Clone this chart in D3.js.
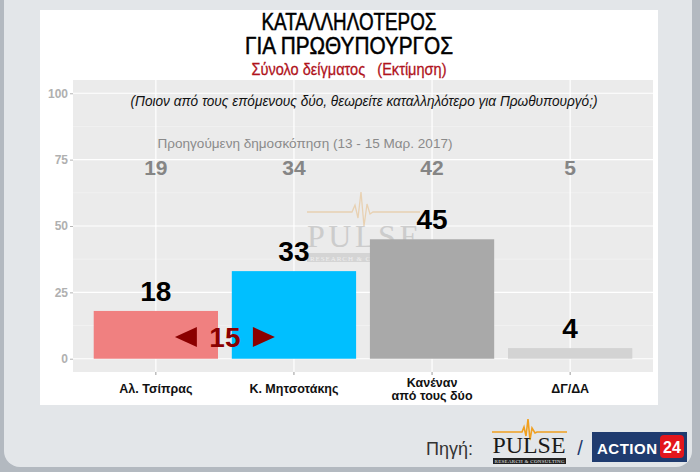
<!DOCTYPE html>
<html>
<head>
<meta charset="utf-8">
<script src="https://cdn.jsdelivr.net/npm/d3@7"></script>
<style>
  html, body { margin: 0; padding: 0; background: #aeb5bd; }
  svg { display: block; }
</style>
</head>
<body>
<svg id="chart" width="700" height="472"></svg>
<script>
// Poll data: most suitable prime minister
const categories = ["Αλ. Τσίπρας", "Κ. Μητσοτάκης", "Κανέναν\nαπό τους δύο", "ΔΓ/ΔΑ"];
const currentValues = [18, 33, 45, 4];
const previousValues = [19, 34, 42, 5];
const yTicks = [0, 25, 50, 75, 100];
const yMinorTicks = [12.5, 37.5, 62.5, 87.5];
const barColors = ["#f08080", "#00bfff", "#a9a9a9", "#d3d3d3"];

const titleLines = ["ΚΑΤΑΛΛΗΛΟΤΕΡΟΣ", "ΓΙΑ ΠΡΩΘΥΠΟΥΡΓΟΣ"];
const subtitle = "Σύνολο δείγματος   (Εκτίμηση)";
const question = "(Ποιον από τους επόμενους δύο, θεωρείτε καταλληλότερο για Πρωθυπουργό;)";
const previousLabel = "Προηγούμενη δημοσκόπηση (13 - 15 Μαρ. 2017)";

const svg = d3.select("#chart");
const SANS = "'Liberation Sans', Arial, sans-serif";
const SERIF = "'Liberation Serif', 'DejaVu Serif', serif";

// Outer frame
svg.append("rect").attr("x", 0).attr("y", 0).attr("width", 700).attr("height", 472).attr("fill", "#b3b9c0");
svg.append("rect").attr("x", 4).attr("y", -20).attr("width", 688).attr("height", 487)
  .attr("rx", 16).attr("fill", "#e3e6e9");

// White chart card
svg.append("rect").attr("x", 40).attr("y", 10).attr("width", 618).attr("height", 395).attr("fill", "#ffffff");

// Titles (condensed sans)
const titleWidths = [175, 208];
titleLines.forEach((t, i) => {
  svg.append("text").attr("x", 349).attr("y", 30 + i * 24).attr("text-anchor", "middle")
    .attr("font-family", SANS).attr("font-size", 23).attr("fill", "#000")
    .attr("stroke", "#000").attr("stroke-width", 0.5)
    .attr("textLength", titleWidths[i]).attr("lengthAdjust", "spacingAndGlyphs")
    .text(t);
});
svg.append("text").attr("x", 349).attr("y", 75).attr("text-anchor", "middle")
  .attr("font-family", SANS).attr("font-size", 17).attr("fill", "#b0121b")
  .attr("stroke", "#b0121b").attr("stroke-width", 0.3)
  .attr("textLength", 195).attr("lengthAdjust", "spacingAndGlyphs")
  .style("white-space", "pre").text(subtitle);

// Plot panel
const panel = { left: 73, right: 653, top: 80, bottom: 372 };
const y = d3.scaleLinear().domain([-5, 105]).range([panel.bottom, panel.top]);
const x = d3.scaleBand().domain(categories).range([panel.left, panel.right])
  .paddingInner(0.1).paddingOuter(0.15);
const cx = c => x(c) + x.bandwidth() / 2;

svg.append("rect").attr("x", panel.left).attr("y", panel.top)
  .attr("width", panel.right - panel.left).attr("height", panel.bottom - panel.top)
  .attr("fill", "#ebebeb");

const grid = svg.append("g");
grid.selectAll("line.minor").data(yMinorTicks).join("line")
  .attr("x1", panel.left).attr("x2", panel.right)
  .attr("y1", d => y(d)).attr("y2", d => y(d))
  .attr("stroke", "#f5f5f5").attr("stroke-width", 0.6);
grid.selectAll("line.major").data(yTicks).join("line")
  .attr("x1", panel.left).attr("x2", panel.right)
  .attr("y1", d => y(d)).attr("y2", d => y(d))
  .attr("stroke", "#ffffff").attr("stroke-width", 1.2);
grid.selectAll("line.vert").data(categories).join("line")
  .attr("x1", d => cx(d)).attr("x2", d => cx(d))
  .attr("y1", panel.top).attr("y2", panel.bottom)
  .attr("stroke", "#ffffff").attr("stroke-width", 1.2);

// Faint company watermark behind the bars
const wm = svg.append("g").attr("opacity", 0.75);
const wmPulse = [[307, 212], [352, 212], [355, 205], [358, 218], [361, 192], [364, 226], [367, 204], [370, 214], [373, 212], [420, 212]];
wm.append("path").attr("d", d3.line()(wmPulse)).attr("fill", "none")
  .attr("stroke", "#e8c9a0").attr("stroke-width", 1.3);
wm.append("text").attr("x", 363).attr("y", 247).attr("text-anchor", "middle")
  .attr("font-family", SERIF).attr("font-size", 32)
  .attr("textLength", 112).attr("fill", "#c2c2c2").text("PULSE");
wm.append("rect").attr("x", 307).attr("y", 253).attr("width", 114).attr("height", 9).attr("fill", "#cdcdcd");
wm.append("text").attr("x", 364).attr("y", 260.5).attr("text-anchor", "middle")
  .attr("font-family", SERIF).attr("font-size", 7)
  .attr("textLength", 108).attr("fill", "#efefef").text("RESEARCH & CONSULTING");

// Bars
svg.append("g").selectAll("rect").data(categories).join("rect")
  .attr("x", d => x(d)).attr("width", x.bandwidth())
  .attr("y", (d, i) => y(currentValues[i]))
  .attr("height", (d, i) => y(0) - y(currentValues[i]))
  .attr("fill", (d, i) => barColors[i]);

// Value labels
svg.append("g").selectAll("text").data(categories).join("text")
  .attr("x", d => cx(d)).attr("y", (d, i) => y(currentValues[i]) - 10)
  .attr("text-anchor", "middle").attr("font-family", SANS).attr("font-weight", "bold")
  .attr("font-size", 28).attr("fill", "#000")
  .text((d, i) => currentValues[i]);

// Previous poll values
svg.append("g").selectAll("text").data(categories).join("text")
  .attr("x", d => cx(d)).attr("y", y(69.2))
  .attr("text-anchor", "middle").attr("font-family", SANS).attr("font-weight", "bold")
  .attr("font-size", 21).attr("fill", "#858585")
  .text((d, i) => previousValues[i]);
svg.append("text").attr("x", 305).attr("y", y(79.5))
  .attr("text-anchor", "middle").attr("font-family", SANS).attr("font-size", 13.5)
  .attr("textLength", 295).attr("lengthAdjust", "spacingAndGlyphs")
  .attr("fill", "#8a8a8a").text(previousLabel);

// Question
svg.append("text").attr("x", 364).attr("y", y(95.3))
  .attr("text-anchor", "middle").attr("font-family", SANS).attr("font-style", "italic")
  .attr("font-size", 14).attr("fill", "#111")
  .attr("textLength", 467).attr("lengthAdjust", "spacingAndGlyphs").text(question);

// Lead between the two leaders
const lead = currentValues[1] - currentValues[0];
const leadX = (cx(categories[0]) + cx(categories[1])) / 2;
const leadY = y(8.2);
const leadG = svg.append("g").attr("fill", "#8b0000");
leadG.append("text").attr("x", leadX).attr("y", leadY + 10)
  .attr("text-anchor", "middle").attr("font-family", SANS).attr("font-weight", "bold")
  .attr("font-size", 28).text(lead);
leadG.append("path").attr("d", `M${leadX - 50},${leadY} L${leadX - 28},${leadY - 10} L${leadX - 28},${leadY + 10} Z`);
leadG.append("path").attr("d", `M${leadX + 50},${leadY} L${leadX + 28},${leadY - 10} L${leadX + 28},${leadY + 10} Z`);

// Y axis
const yAxis = d3.axisLeft(y).tickValues(yTicks).tickSize(3).tickPadding(2);
const yg = svg.append("g").attr("transform", `translate(${panel.left},0)`).call(yAxis);
yg.select(".domain").remove();
yg.selectAll(".tick line").attr("stroke", "#b5b5b5");
yg.selectAll(".tick text").attr("fill", "#b0b0b0").attr("font-family", SANS)
  .attr("font-weight", "bold").attr("font-size", 12);

// X axis
const xAxis = d3.axisBottom(x).tickSize(3).tickPadding(4).tickFormat("");
const xg = svg.append("g").attr("transform", `translate(0,${panel.bottom})`).call(xAxis);
xg.select(".domain").remove();
xg.selectAll(".tick line").attr("stroke", "#9a9a9a");
xg.selectAll(".tick").each(function (d) {
  const lines = d.split("\n");
  const t = d3.select(this).append("text").attr("text-anchor", "middle")
    .attr("font-family", SANS).attr("font-weight", "bold").attr("font-size", 12.5)
    .attr("fill", "#111");
  const startY = 21 - (lines.length - 1) * 6.5;
  lines.forEach((ln, i) => t.append("tspan").attr("x", 0).attr("y", startY + i * 13.5).text(ln));
});

// Footer: source
svg.append("text").attr("x", 426).attr("y", 455).attr("font-family", SANS)
  .attr("font-size", 18).attr("fill", "#333").text("Πηγή:");

const logo = svg.append("g");
const logoPulse = [[492, 432], [522, 432], [524, 427], [526, 436], [528, 419], [530, 440], [532, 428], [535, 433], [537, 432], [567, 432]];
logo.append("path").attr("d", d3.line()(logoPulse)).attr("fill", "none")
  .attr("stroke", "#f0a020").attr("stroke-width", 1.6);
logo.append("text").attr("x", 529).attr("y", 453).attr("text-anchor", "middle")
  .attr("font-family", SERIF).attr("font-size", 23)
  .attr("textLength", 73).attr("lengthAdjust", "spacingAndGlyphs")
  .attr("fill", "#1a1a1a").text("PULSE");
logo.append("rect").attr("x", 493).attr("y", 458).attr("width", 73).attr("height", 6).attr("fill", "#222");
logo.append("text").attr("x", 529.5).attr("y", 463.3).attr("text-anchor", "middle")
  .attr("font-family", SERIF).attr("font-size", 5)
  .attr("textLength", 70).attr("fill", "#eee").text("RESEARCH & CONSULTING");

svg.append("text").attr("x", 580).attr("y", 455).attr("text-anchor", "middle")
  .attr("font-family", SANS).attr("font-size", 20).attr("fill", "#1d3a6e").text("/");

const act = svg.append("g");
act.append("rect").attr("x", 592).attr("y", 432).attr("width", 95).attr("height", 30).attr("fill", "#1f3b6f");
act.append("text").attr("x", 597).attr("y", 453.5).attr("font-family", SANS).attr("font-weight", "bold")
  .attr("font-size", 15).attr("textLength", 60).attr("fill", "#fff").text("ACTION");
act.append("rect").attr("x", 660).attr("y", 435).attr("width", 24).attr("height", 23).attr("rx", 4).attr("fill", "#e3161c");
act.append("text").attr("x", 672).attr("y", 453).attr("text-anchor", "middle").attr("font-family", SANS)
  .attr("font-weight", "bold").attr("font-size", 16).attr("fill", "#fff").text("24");
</script>
</body>
</html>
